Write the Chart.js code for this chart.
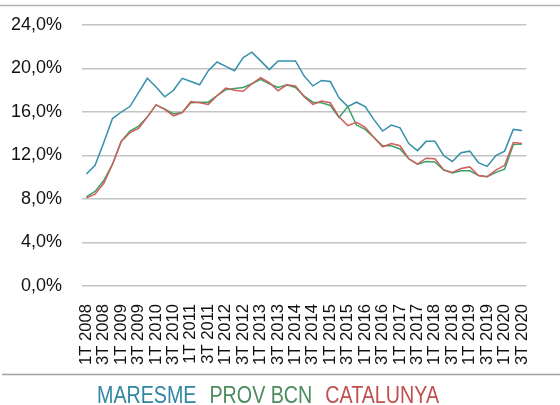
<!DOCTYPE html>
<html lang="ca">
<head>
    <meta charset="UTF-8">
    <title>Maresme / Prov BCN / Catalunya</title>
    <script src="https://cdn.jsdelivr.net/npm/chart.js"></script>
    <style>
        html, body {
            margin: 0;
            padding: 0;
            background: #ffffff;
        }
        .chart-container {
            position: relative;
            width: 560px;
            height: 405px;
        }
    </style>
</head>
<body>
    <div class="chart-container">
        <canvas id="atur"></canvas>
    </div>

    <script>
        // trimestres
        const trimestres = [
            '1T 2008', '2T 2008', '3T 2008', '4T 2008',
            '1T 2009', '2T 2009', '3T 2009', '4T 2009',
            '1T 2010', '2T 2010', '3T 2010', '4T 2010',
            '1T 2011', '2T 2011', '3T 2011', '4T 2011',
            '1T 2012', '2T 2012', '3T 2012', '4T 2012',
            '1T 2013', '2T 2013', '3T 2013', '4T 2013',
            '1T 2014', '2T 2014', '3T 2014', '4T 2014',
            '1T 2015', '2T 2015', '3T 2015', '4T 2015',
            '1T 2016', '2T 2016', '3T 2016', '4T 2016',
            '1T 2017', '2T 2017', '3T 2017', '4T 2017',
            '1T 2018', '2T 2018', '3T 2018', '4T 2018',
            '1T 2019', '2T 2019', '3T 2019', '4T 2019',
            '1T 2020', '2T 2020', '3T 2020'
        ];

        const maresme = [
            10.3, 11.1, 13.2, 15.4, 16.0, 16.5, 17.8, 19.1, 18.3, 17.4,
            18.0, 19.1, 18.8, 18.5, 19.8, 20.6, 20.2, 19.8, 21.0, 21.5,
            20.7, 19.9, 20.7, 20.7, 20.7, 19.3, 18.4, 18.9, 18.8, 17.3,
            16.5, 16.9, 16.5, 15.3, 14.25, 14.8, 14.55, 13.1, 12.45, 13.3,
            13.3, 12.0, 11.45, 12.25, 12.4, 11.35, 11.0, 12.0, 12.4, 14.4,
            14.3
        ];

        const provBcn = [
            8.2, 8.7, 9.7, 11.2, 13.3, 14.25, 14.7, 15.55, 16.65, 16.25,
            15.85, 15.95, 16.85, 16.9, 16.9, 17.5, 18.05, 18.15, 18.25, 18.6,
            19.0, 18.6, 18.25, 18.5, 18.25, 17.45, 16.9, 16.85, 16.6, 15.5,
            16.5, 14.8, 14.4, 13.65, 12.9, 12.9, 12.6, 11.7, 11.2, 11.45,
            11.4, 10.65, 10.4, 10.6, 10.6, 10.15, 10.05, 10.45, 10.75, 13.0,
            13.05
        ];

        const catalunya = [
            8.1, 8.45, 9.45, 11.2, 13.3, 14.1, 14.5, 15.55, 16.65, 16.25,
            15.65, 15.95, 16.95, 16.85, 16.7, 17.5, 18.2, 18.0, 17.9, 18.6,
            19.15, 18.7, 17.95, 18.5, 18.4, 17.4, 16.7, 17.0, 16.85, 15.55,
            14.75, 15.05, 14.6, 13.65, 12.8, 13.1, 12.9, 11.7, 11.2, 11.75,
            11.7, 10.7, 10.45, 10.8, 10.95, 10.15, 10.05, 10.65, 11.1, 13.2,
            13.1
        ];

        const yTicks = [0, 4, 8, 12, 16, 20, 24];

        // linies grises de dalt i de baix (vores del quadre original)
        const voresPlugin = {
            id: 'vores',
            afterDraw(chart) {
                const ctx = chart.ctx;
                ctx.save();
                ctx.strokeStyle = '#b4b4b4';
                ctx.lineWidth = 1.5;
                ctx.beginPath();
                ctx.moveTo(0, 5.5);
                ctx.lineTo(chart.width, 5.5);
                ctx.stroke();
                ctx.strokeStyle = '#a0a0a0';
                ctx.beginPath();
                ctx.moveTo(2, 374.5);
                ctx.lineTo(chart.width, 374.5);
                ctx.stroke();
                ctx.restore();
            }
        };

        // llegenda amb lletra estreta (no hi ha Arial Narrow, s'escala en horitzontal)
        const llegendaPlugin = {
            id: 'llegenda',
            afterDraw(chart) {
                const ctx = chart.ctx;
                const sx = 0.82;
                const gap = 13;
                ctx.save();
                ctx.font = "24px 'Liberation Sans', Arial, sans-serif";
                ctx.textBaseline = 'alphabetic';
                ctx.textAlign = 'left';
                const sets = chart.data.datasets;
                const widths = sets.map(ds => ctx.measureText(ds.label).width * sx);
                const total = widths.reduce((a, b) => a + b, 0) + gap * (sets.length - 1);
                let x = 268 - total / 2;
                sets.forEach((ds, i) => {
                    ctx.save();
                    ctx.translate(x, 403);
                    ctx.scale(sx, 1);
                    ctx.fillStyle = ds.legendColor;
                    ctx.fillText(ds.label, 0, 0);
                    ctx.restore();
                    x += widths[i] + gap;
                });
                ctx.restore();
            }
        };

        document.addEventListener('DOMContentLoaded', function() {
            if (typeof Chart === 'undefined') {
                console.error('Chart.js not loaded');
                return;
            }

            try {
                const ctx = document.getElementById('atur');
                new Chart(ctx, {
                    type: 'line',
                    data: {
                        labels: trimestres,
                        datasets: [{
                            label: 'MARESME',
                            data: maresme,
                            borderColor: '#3590ab',
                            legendColor: '#2e86a0',
                            borderWidth: 1.5,
                            pointRadius: 0,
                            tension: 0,
                            order: 3
                        }, {
                            label: 'PROV BCN',
                            data: provBcn,
                            borderColor: '#3aa265',
                            legendColor: '#4a8c5c',
                            borderWidth: 1.5,
                            pointRadius: 0,
                            tension: 0,
                            order: 2
                        }, {
                            label: 'CATALUNYA',
                            data: catalunya,
                            borderColor: '#cf5f5c',
                            legendColor: '#c0504d',
                            borderWidth: 1.5,
                            pointRadius: 0,
                            tension: 0,
                            order: 1
                        }]
                    },
                    options: {
                        responsive: true,
                        maintainAspectRatio: false,
                        animation: false,
                        layout: {
                            padding: { top: 25, right: 5, left: 0, bottom: 32 }
                        },
                        plugins: {
                            tooltip: { enabled: false },
                            legend: { display: false }
                        },
                        scales: {
                            x: {
                                offset: true,
                                grid: { display: false, drawTicks: false },
                                border: { display: false },
                                afterFit(scale) {
                                    scale.height = 87;
                                },
                                ticks: {
                                    autoSkip: false,
                                    minRotation: 90,
                                    maxRotation: 90,
                                    padding: 18,
                                    color: '#111',
                                    font: { family: "'Liberation Sans', Arial, sans-serif", size: 16.6 },
                                    callback: function(value, index) {
                                        return index % 2 === 0 ? trimestres[index] : '';
                                    }
                                }
                            },
                            y: {
                                min: 0,
                                max: 24,
                                afterFit(scale) {
                                    scale.width = 82;
                                    // el padding de les etiquetes no ha de moure l'area del grafic
                                    scale.paddingTop = 0;
                                    scale.paddingBottom = 0;
                                },
                                afterBuildTicks(scale) {
                                    scale.ticks = yTicks.map(v => ({ value: v }));
                                },
                                grid: {
                                    color: '#c4c4c4',
                                    lineWidth: 1.5,
                                    drawTicks: false
                                },
                                border: { display: false },
                                ticks: {
                                    padding: 20,
                                    color: '#111',
                                    font: { family: "'Liberation Sans', Arial, sans-serif", size: 18 },
                                    callback: function(value) {
                                        return value.toFixed(1).replace('.', ',') + '%';
                                    }
                                }
                            }
                        }
                    },
                    plugins: [voresPlugin, llegendaPlugin]
                });
            } catch (error) {
                console.error('Chart creation error:', error);
            }
        });
    </script>
</body>
</html>
